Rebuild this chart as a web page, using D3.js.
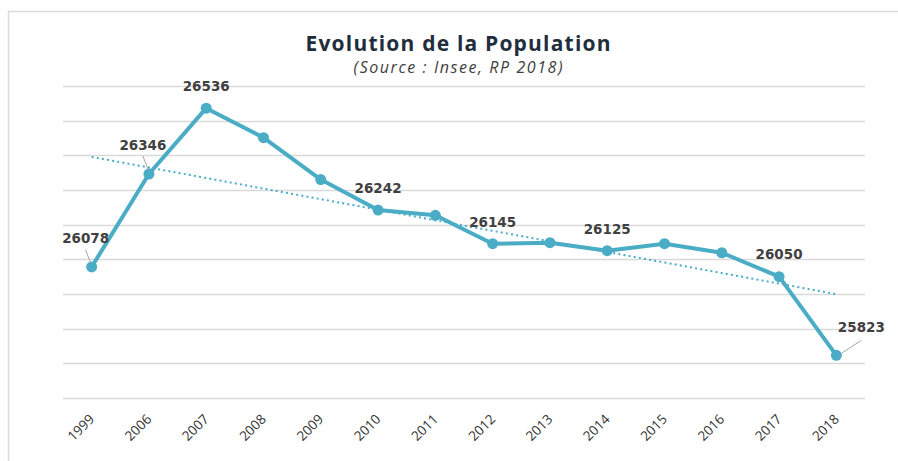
<!DOCTYPE html>
<html>
<head>
<meta charset="utf-8">
<script src="https://cdn.jsdelivr.net/npm/d3@7"></script>
<style>
html,body{margin:0;padding:0;background:#fff;}
svg{display:block;}
</style>
</head>
<body>
<svg id="chart" width="898" height="461"></svg>
<script>
const years = ["1999","2006","2007","2008","2009","2010","2011","2012","2013","2014","2015","2016","2017","2018"];
const population = [26078, 26346, 26536, 26451, 26330, 26242, 26227, 26145, 26148, 26125, 26145, 26119, 26050, 25823];
const labelledYears = ["1999","2006","2007","2010","2012","2014","2017","2018"];
const gridValues = [25700, 25800, 25900, 26000, 26100, 26200, 26300, 26400, 26500, 26600];
const titleText = "Evolution de la Population";
const subtitleText = "(Source : Insee, RP 2018)";

const svg = d3.select("#chart");
const W = 898, H = 461;
const plot = {left: 63, right: 865, top: 86, bottom: 398};
const lineColor = "#4bacc6";

// frame
svg.append("path").attr("d", `M8.5,${H} V11.5 H${W}`)
  .attr("fill","none").attr("stroke","#dcdcdc").attr("stroke-width",1.5);

const x = d3.scalePoint().domain(years).range([plot.left, plot.right]).padding(0.5);
const y = d3.scaleLinear().domain([25700, 26600]).range([plot.bottom, plot.top]);

// gridlines
svg.append("g").selectAll("line").data(gridValues).join("line")
  .attr("x1", plot.left).attr("x2", plot.right)
  .attr("y1", d => Math.round(y(d)) + 0.5).attr("y2", d => Math.round(y(d)) + 0.5)
  .attr("stroke", "#d9d9d9").attr("stroke-width", 1.5);

// x axis labels
const xAxis = d3.axisBottom(x).tickSize(0).tickPadding(0);
const gx = svg.append("g").attr("transform", `translate(0,${plot.bottom})`).call(xAxis);
gx.select(".domain").remove();
gx.selectAll("text")
  .attr("font-family", "'Open Sans', sans-serif")
  .attr("font-size", 13.5)
  .attr("fill", "#333")
  .attr("text-anchor", "end")
  .attr("dy", 0)
  .attr("y", 0)
  .attr("transform", "translate(3,22) rotate(-45)");

// trend line (least squares)
const idx = population.map((d,i)=>i);
const mx = d3.mean(idx), my = d3.mean(population);
const slope = d3.sum(idx.map(i => (i-mx)*(population[i]-my))) / d3.sum(idx.map(i => (i-mx)*(i-mx)));
const icpt = my - slope*mx;
svg.append("line")
  .attr("x1", x(years[0])).attr("y1", y(icpt))
  .attr("x2", x(years[years.length-1])).attr("y2", y(icpt + slope*(years.length-1)))
  .attr("stroke", lineColor).attr("stroke-width", 2)
  .attr("stroke-dasharray", "2,3.2");

// main line
const line = d3.line().x((d,i)=>x(years[i])).y(d=>y(d));
svg.append("path").datum(population)
  .attr("d", line).attr("fill","none")
  .attr("stroke", lineColor).attr("stroke-width", 4).attr("stroke-linejoin","round");

svg.append("g").selectAll("circle").data(population).join("circle")
  .attr("cx",(d,i)=>x(years[i])).attr("cy", d=>y(d)).attr("r", 5.5)
  .attr("fill", lineColor);

// data labels
const labelOffsets = {
  "1999": {dx:-6, dy:-24, leader:[[-6,-17],[-1,-4]]},
  "2006": {dx:-6, dy:-24, leader:[[-6,-18],[-1,-5]]},
  "2007": {dx:0, dy:-17},
  "2010": {dx:0, dy:-17},
  "2012": {dx:0, dy:-17},
  "2014": {dx:0, dy:-17},
  "2017": {dx:0, dy:-18},
  "2018": {dx:25, dy:-23, leader:[[25,-15],[5,-2]]}
};
const lg = svg.append("g");
population.forEach((v,i) => {
  const yr = years[i];
  if (!labelledYears.includes(yr)) return;
  const o = labelOffsets[yr];
  const px = x(yr), py = y(v);
  if (o.leader) {
    lg.append("line")
      .attr("x1", px+o.leader[0][0]).attr("y1", py+o.leader[0][1])
      .attr("x2", px+o.leader[1][0]).attr("y2", py+o.leader[1][1])
      .attr("stroke", "#a6a6a6").attr("stroke-width", 1);
  }
  lg.append("text")
    .attr("x", px+o.dx).attr("y", py+o.dy)
    .attr("text-anchor","middle")
    .attr("font-family","'DejaVu Sans', Verdana, sans-serif")
    .attr("font-weight","bold").attr("font-size",13.5)
    .attr("fill","#404040")
    .text(v);
});

// titles
svg.append("text").attr("x", 458).attr("y", 51).attr("text-anchor","middle")
  .attr("font-family","'Open Sans', sans-serif").attr("font-weight","bold")
  .attr("font-size", 21).attr("fill","#1f2e3d")
  .attr("textLength", 305).attr("lengthAdjust","spacing").text(titleText);
svg.append("text").attr("x", 458).attr("y", 73).attr("text-anchor","middle")
  .attr("font-family","'Open Sans', sans-serif").attr("font-style","italic")
  .attr("font-size", 16).attr("fill","#404040")
  .attr("textLength", 209).attr("lengthAdjust","spacing").text(subtitleText);
</script>
</body>
</html>
